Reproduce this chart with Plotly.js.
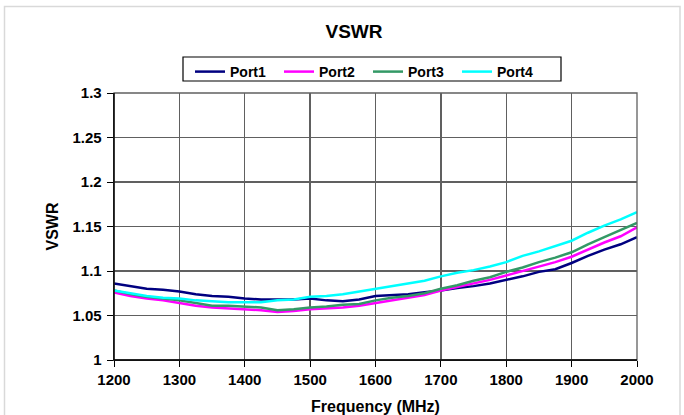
<!DOCTYPE html>
<html>
<head>
<meta charset="utf-8">
<script src="https://cdn.plot.ly/plotly-3.0.1.min.js"></script>
<style>html,body{margin:0;padding:0;background:#fff;}#chart{width:684px;height:415px;}</style>
</head>
<body>
<div id="chart"></div>
<script>
const freq = [1200,1225,1250,1275,1300,1325,1350,1375,1400,1425,1450,1475,1500,1525,1550,1575,1600,1625,1650,1675,1700,1725,1750,1775,1800,1825,1850,1875,1900,1925,1950,1975,2000];
const port1 = [1.086,1.083,1.080,1.079,1.077,1.074,1.072,1.071,1.069,1.068,1.068,1.068,1.069,1.067,1.066,1.068,1.072,1.073,1.074,1.076,1.078,1.081,1.083,1.086,1.090,1.094,1.099,1.102,1.109,1.117,1.124,1.130,1.138];
const port2 = [1.076,1.072,1.069,1.067,1.064,1.061,1.059,1.058,1.057,1.056,1.054,1.055,1.057,1.058,1.059,1.061,1.064,1.067,1.070,1.073,1.078,1.082,1.086,1.090,1.095,1.100,1.105,1.110,1.116,1.124,1.132,1.139,1.149];
const port3 = [1.078,1.074,1.071,1.069,1.067,1.064,1.061,1.061,1.060,1.059,1.056,1.057,1.059,1.060,1.062,1.063,1.067,1.070,1.072,1.075,1.080,1.084,1.089,1.093,1.099,1.104,1.110,1.115,1.121,1.130,1.138,1.146,1.154];
const port4 = [1.078,1.075,1.072,1.070,1.069,1.067,1.066,1.065,1.065,1.065,1.067,1.068,1.071,1.072,1.074,1.077,1.080,1.083,1.086,1.089,1.094,1.098,1.101,1.105,1.110,1.117,1.122,1.128,1.134,1.143,1.151,1.158,1.166];
const seriesNames = ['Port1','Port2','Port3','Port4'];
const seriesColors = ['#000080','#FF00FF','#339966','#00FFFF'];
const seriesData = [port1, port2, port3, port4];

const W = 684, H = 415;
const L = 114, R = 637, T = 93, B = 360;
const px = x => (x - L) / (R - L);
const py = y => (B - y) / (B - T);

const FONT = 'Liberation Sans, Arial, sans-serif';

const traces = seriesData.map((d, i) => ({
  x: freq, y: d, type: 'scatter', mode: 'lines', name: seriesNames[i],
  line: {color: seriesColors[i], width: 2.5}
}));

const layout = {
  width: W, height: H,
  margin: {l: L, r: W - R, t: T, b: H - B, pad: 0},
  paper_bgcolor: '#fff', plot_bgcolor: '#fff',
  font: {family: FONT, color: '#000'},
  title: {text: 'VSWR', font: {family: FONT, size: 19, weight: 'bold', color: '#000'},
          x: px(354), xref: 'paper', xanchor: 'center', y: 1 - 31 / H, yref: 'container', yanchor: 'middle'},
  xaxis: {
    range: [1200, 2000], tickvals: [1200,1300,1400,1500,1600,1700,1800,1900,2000],
    ticks: 'outside', ticklen: 6, tickcolor: '#000', tickwidth: 1,
    showgrid: true, gridcolor: '#606060', gridwidth: 1.3,
    showline: true, linecolor: '#000', linewidth: 1.3, zeroline: false,
    tickfont: {family: FONT, size: 15, weight: 'bold', color: '#000'},
    title: {text: 'Frequency (MHz)', font: {family: FONT, size: 16, weight: 'bold', color: '#000'}, standoff: 20},
    automargin: false, fixedrange: true
  },
  yaxis: {
    range: [1, 1.3], tickvals: [1,1.05,1.1,1.15,1.2,1.25,1.3], ticktext: ['1','1.05','1.1','1.15','1.2','1.25','1.3'],
    ticks: 'outside', ticklen: 6, tickcolor: '#000', tickwidth: 1,
    showgrid: true, gridcolor: '#606060', gridwidth: 1.3,
    showline: true, linecolor: '#000', linewidth: 1.3, zeroline: false,
    tickfont: {family: FONT, size: 15, weight: 'bold', color: '#000'},
    ticklabelstandoff: 2,
    title: {text: 'VSWR', font: {family: FONT, size: 16, weight: 'bold', color: '#000'}, standoff: 10},
    automargin: false, fixedrange: true
  },
  showlegend: true,
  legend: {
    orientation: 'h', x: px(190), xanchor: 'left', y: py(56), yanchor: 'top',
    bgcolor: 'rgba(0,0,0,0)', borderwidth: 0,
    font: {family: FONT, size: 14, weight: 'bold', color: '#000'},
    itemwidth: 30, entrywidth: 44, entrywidthmode: 'pixels', tracegroupgap: 0
  },
  shapes: [
    {type: 'rect', xref: 'paper', yref: 'paper', x0: 0, x1: 1, y0: 0, y1: 1, line: {color: '#606060', width: 1.3}, layer: 'above'},
    {type: 'line', xref: 'paper', yref: 'paper', x0: 0, x1: 0, y0: 0, y1: 1, line: {color: '#000', width: 1.3}, layer: 'above'},
    {type: 'line', xref: 'paper', yref: 'paper', x0: 0, x1: 1, y0: 0, y1: 0, line: {color: '#000', width: 1.3}, layer: 'above'},
    {type: 'rect', xref: 'paper', yref: 'paper', x0: px(183), x1: px(561), y0: py(81), y1: py(57), line: {color: '#000', width: 1.2}, layer: 'above'},
    {type: 'rect', xref: 'paper', yref: 'paper', x0: px(4.5), x1: px(680), y0: py(430), y1: py(6.5), line: {color: '#d9d9d9', width: 1.5}, layer: 'below'}
  ]
};

Plotly.newPlot('chart', traces, layout, {displayModeBar: false, staticPlot: true});
</script>
</body>
</html>
